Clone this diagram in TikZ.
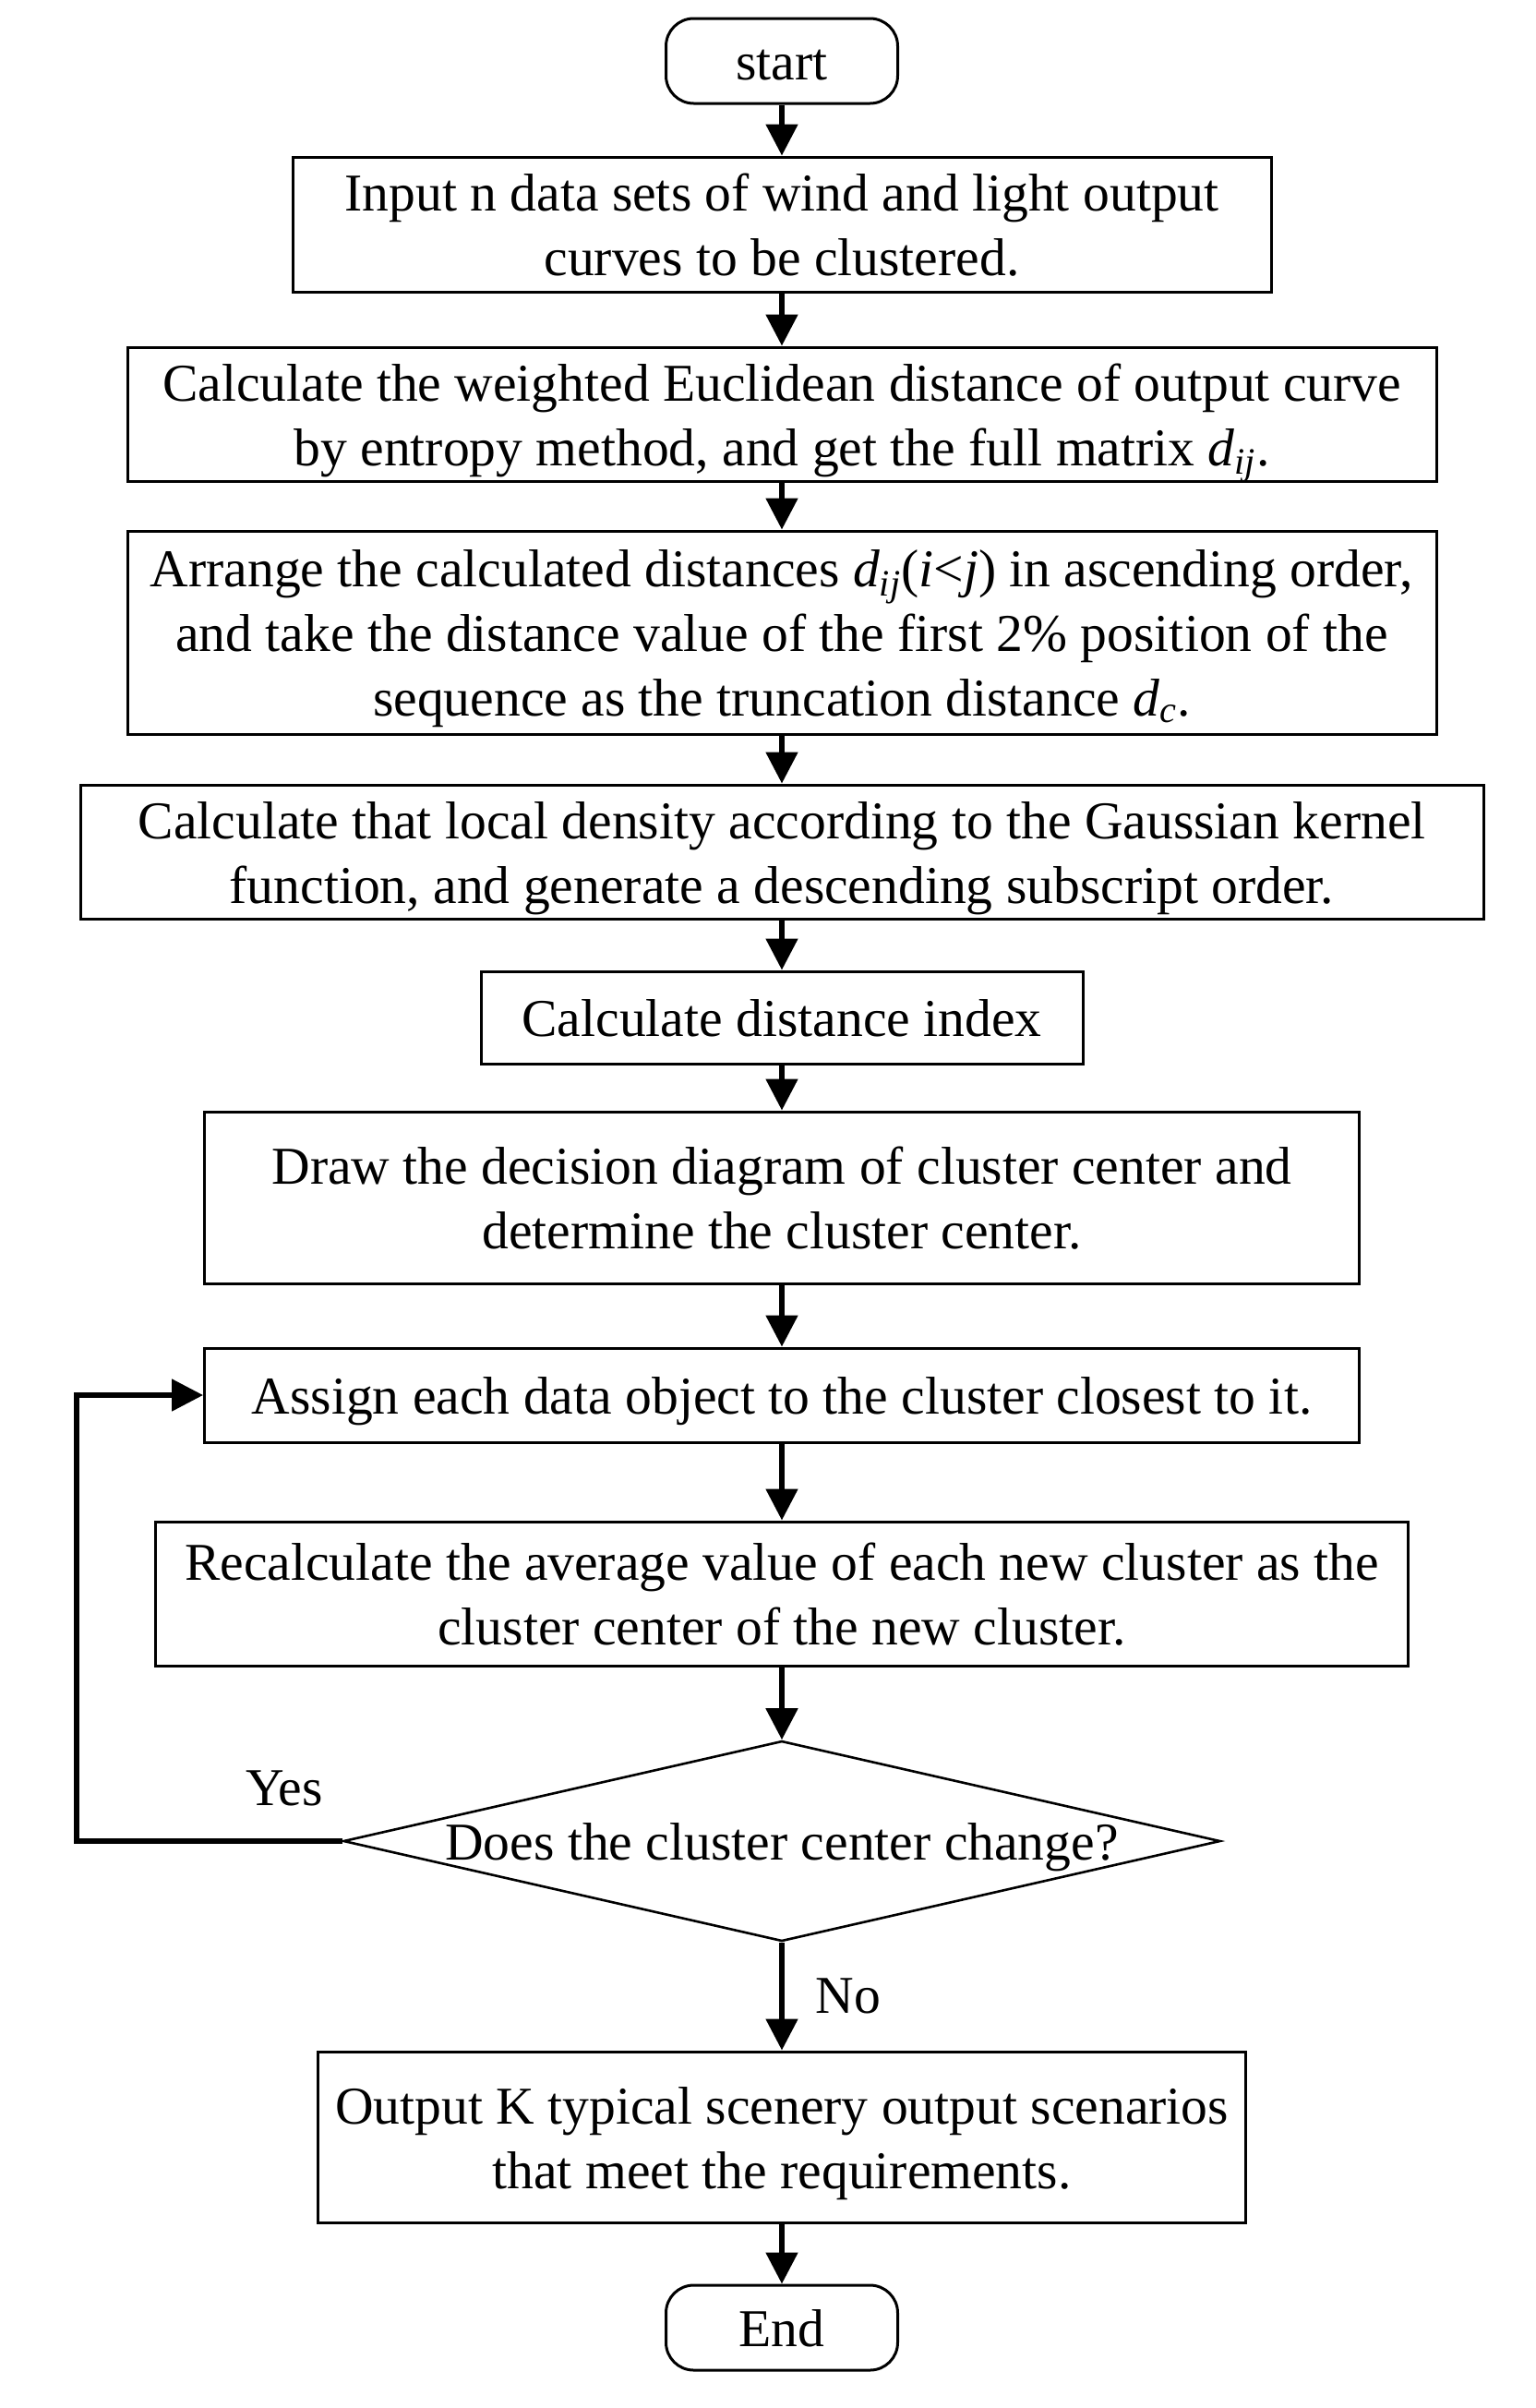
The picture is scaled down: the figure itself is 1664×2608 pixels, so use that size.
\documentclass[tikz,border=0pt]{standalone}
\usepackage{fontspec}
\setmainfont{Liberation Serif}
\usetikzlibrary{arrows.meta,shapes.geometric,calc}
\newcommand{\ita}[1]{\textit{#1}}
\newcommand{\dsub}[1]{\smash{\ita{d}\textsubscript{\ita{#1}}}}
\newcommand{\fs}{\rule{0pt}{27.5pt}}
\begin{document}
\begin{tikzpicture}[x=0.5pt,y=-0.5pt,
  every node/.style={font=\fontsize{28.8pt}{35pt}\selectfont, inner sep=0pt},
  struts/.style={execute at end node={\rule[-7pt]{0pt}{0pt}}},
  procbox/.style={draw, line width=1.5pt, rectangle, align=center, struts},
  termbox/.style={draw, line width=1.5pt, rectangle, rounded corners=15pt, minimum width=125.5pt, minimum height=46pt, struts},
  decbox/.style={draw, line width=1.3pt, diamond, minimum width=475pt, minimum height=108.5pt},
  flow/.style={line width=2.6pt, -{Triangle[width=17pt,length=17pt]}},
  lbl/.style={font=\fontsize{28.8pt}{35pt}\selectfont}
]
\useasboundingbox (0,0) rectangle (1664,2608);
\fill[white] (0,0) rectangle (1664,2608);

\node[termbox] (start) at (847,66) {\fs start};
\node[procbox, minimum width=530pt, minimum height=73pt] (b1) at (847,243)
  {\fs Input n data sets of wind and light output\\curves to be clustered.};
\node[procbox, minimum width=709pt, minimum height=72.5pt] (b2) at (847,448.5)
  {\fs Calculate the weighted Euclidean distance of output curve\\by entropy method, and get the full matrix \dsub{ij}.};
\node[procbox, minimum width=709pt, minimum height=110pt] (b3) at (847,685)
  {\fs Arrange the calculated distances \dsub{ij}(\ita{i}<\ita{j}) in ascending order,\\and take the distance value of the first 2\% position of the\\sequence as the truncation distance \dsub{c}.};
\node[procbox, minimum width=760pt, minimum height=72.5pt] (b4) at (847,922.5)
  {\fs Calculate that local density according to the Gaussian kernel\\function, and generate a descending subscript order.};
\node[procbox, minimum width=326pt, minimum height=50pt] (b5) at (847,1102)
  {\fs Calculate distance index};
\node[procbox, minimum width=625.5pt, minimum height=93pt] (b6) at (847,1297)
  {\fs Draw the decision diagram of cluster center and\\determine the cluster center.};
\node[procbox, minimum width=625.5pt, minimum height=51pt] (b7) at (847,1511)
  {\fs Assign each data object to the cluster closest to it.};
\node[procbox, minimum width=678.5pt, minimum height=78pt] (b8) at (847,1726)
  {\fs Recalculate the average value of each new cluster as the\\cluster center of the new cluster.};
\node[decbox] (dia) at (847,1994) {};
\node[struts] (diatext) at (dia.center) {\fs Does the cluster center change?};
\node[procbox, minimum width=502.5pt, minimum height=92.5pt] (out) at (847,2314.5)
  {\fs Output K typical scenery output scenarios\\that meet the requirements.};
\node[termbox] (end) at (847,2521) {\fs End};

\draw[flow] (start) -- (b1);
\draw[flow] (b1) -- (b2);
\draw[flow] (b2) -- (b3);
\draw[flow] (b3) -- (b4);
\draw[flow] (b4) -- (b5);
\draw[flow] (b5) -- (b6);
\draw[flow] (b6) -- (b7);
\draw[flow] (b7) -- (b8);
\draw[flow] (b8) -- (dia.north);
\draw[flow] (dia.south) -- (out);
\draw[flow] (out) -- (end);

\coordinate (loopc) at (83,1994);
\draw[flow, line join=miter] (dia.west) -- (loopc) |- (b7.west);

\node[lbl, struts] (yes) at (308,1935) {\fs Yes};
\node[lbl, struts] (no) at (919,2160) {\fs No};
\end{tikzpicture}
\end{document}
